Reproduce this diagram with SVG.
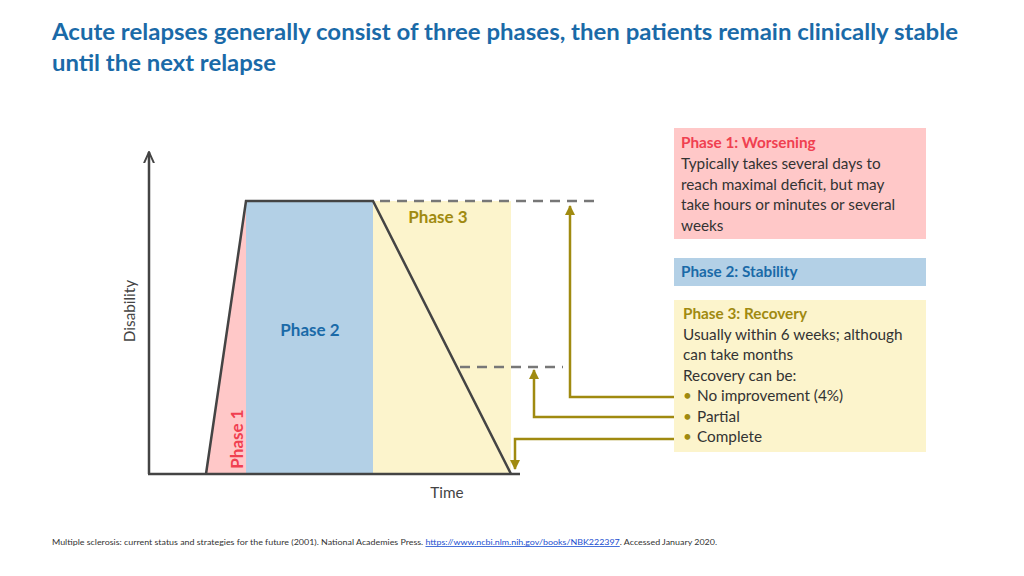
<svg xmlns="http://www.w3.org/2000/svg" width="1024" height="576" viewBox="0 0 1024 576">
<style>
text{font-family:Lato,"Noto Sans",sans-serif}
.t{font-size:22px;font-weight:bold;fill:#1a6aa8}
.b{font-size:15.3px;fill:#333}
.ax{stroke:#444;stroke-width:2.5;fill:none}
.dash{stroke:#777;stroke-width:2.5;stroke-dasharray:10,7;fill:none}
.gold{stroke:#a08a10;stroke-width:2.5;fill:none}
</style>
<defs>
<marker id="ah" viewBox="0 0 10 10" refX="9" refY="5" markerWidth="4" markerHeight="4" orient="auto"><path d="M0,0L10,5L0,10z" fill="#a08a10"/></marker>
<marker id="aa" viewBox="0 0 10 10" refX="9" refY="5" markerWidth="5" markerHeight="5" orient="auto"><path d="M0,1L9,5L0,9" fill="none" stroke="#444" stroke-width="1.5"/></marker>
</defs>
<rect width="1024" height="576" fill="#fff"/>
<text class="t" x="52" y="40" textLength="906" lengthAdjust="spacingAndGlyphs">Acute relapses generally consist of three phases, then patients remain clinically stable</text>
<text class="t" x="52" y="71" textLength="224" lengthAdjust="spacingAndGlyphs">until the next relapse</text>
<g id="chart">
<polygon points="206,474 246,201 246,474" fill="#ffc8c8"/>
<rect x="246" y="201" width="127" height="273" fill="#b3d0e6"/>
<rect x="373" y="201" width="138" height="273" fill="#fcf4cc"/>
<polyline class="ax" points="206,474 246,201 373,201 511,474"/>
<text x="310" y="336" text-anchor="middle" style="font-size:17px;font-weight:bold;fill:#1a6aa8">Phase 2</text>
<text x="438" y="223" text-anchor="middle" style="font-size:17px;font-weight:bold;fill:#a08a10">Phase 3</text>
<text transform="translate(243,439) rotate(-90)" text-anchor="middle" style="font-size:17px;font-weight:bold;fill:#f04050">Phase 1</text>
</g>
<g id="axes">
<line class="ax" x1="149" y1="474" x2="149" y2="152" marker-end="url(#aa)"/>
<line class="ax" x1="148" y1="474" x2="520" y2="474"/>
<text transform="translate(135,311) rotate(-90)" text-anchor="middle" class="b" style="fill:#444">Disability</text>
<text x="447" y="498" text-anchor="middle" class="b" style="fill:#444">Time</text>
</g>
<g id="connectors">
<line class="dash" x1="380" y1="201" x2="600" y2="201"/>
<line class="dash" x1="460" y1="367" x2="563" y2="367"/>
<polyline class="gold" points="675,397 570,397 570,206" marker-end="url(#ah)"/>
<polyline class="gold" points="675,417 534,417 534,370" marker-end="url(#ah)"/>
<polyline class="gold" points="675,439 515,439 515,469" marker-end="url(#ah)"/>
</g>
<g id="phase1box">
<rect x="674" y="128" width="252" height="111" fill="#ffc8c8"/>
<text x="681" y="148" class="b" style="font-weight:bold;fill:#f04050">Phase 1: Worsening</text>
<text class="b" x="681" y="169">Typically takes several days to</text>
<text class="b" x="681" y="189.5">reach maximal deficit, but may</text>
<text class="b" x="681" y="210">take hours or minutes or several</text>
<text class="b" x="681" y="230.5">weeks</text>
</g>
<g id="phase2box">
<rect x="674" y="258" width="252" height="28" fill="#b3d0e6"/>
<text x="681" y="277" class="b" style="font-weight:bold;fill:#1a6aa8">Phase 2: Stability</text>
</g>
<g id="phase3box">
<rect x="674" y="300" width="252" height="152" fill="#fcf4cc"/>
<text x="683" y="319" class="b" style="font-weight:bold;fill:#a08a10">Phase 3: Recovery</text>
<text class="b" x="683" y="339.5">Usually within 6 weeks; although</text>
<text class="b" x="683" y="360">can take months</text>
<text class="b" x="683" y="380.5">Recovery can be:</text>
<text class="b" x="683" y="401"><tspan fill="#a08a10">•</tspan><tspan x="697">No improvement (4%)</tspan></text>
<text class="b" x="683" y="421.5"><tspan fill="#a08a10">•</tspan><tspan x="697">Partial</tspan></text>
<text class="b" x="683" y="442"><tspan fill="#a08a10">•</tspan><tspan x="697">Complete</tspan></text>
</g>
<text x="52" y="545" style="font-size:8px;fill:#333" textLength="665" lengthAdjust="spacingAndGlyphs">Multiple sclerosis: current status and strategies for the future (2001). National Academies Press. <tspan fill="#1a4ed0" text-decoration="underline">https://www.ncbi.nlm.nih.gov/books/NBK222397</tspan>. Accessed January 2020.</text>
</svg>
